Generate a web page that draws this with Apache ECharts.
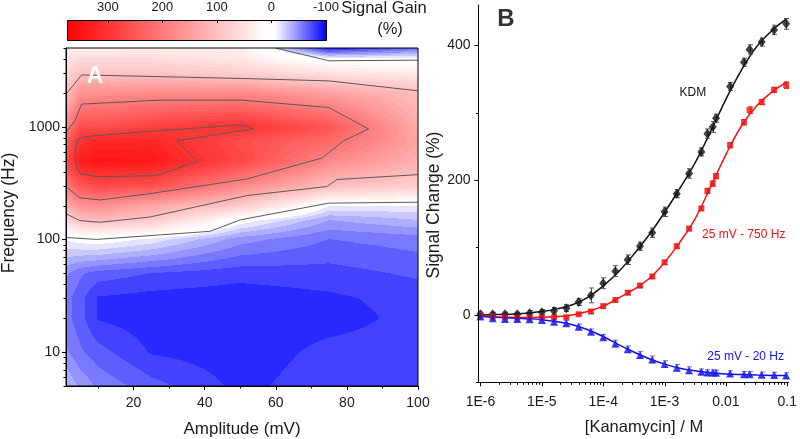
<!DOCTYPE html>
<html><head><meta charset="utf-8">
<script src="https://cdn.jsdelivr.net/npm/echarts@6/dist/echarts.min.js"></script>
<style>html,body{margin:0;padding:0;background:#fff}#c{width:800px;height:439px}</style>
</head><body><div id="c"></div>
<script>
// ================= Panel A : signal gain (%) over amplitude x frequency =================
const AMPLITUDE_MV = [1, 5, 10, 25, 50, 75, 100];
const FREQUENCY_HZ = [5, 10, 20, 30, 50, 100, 150, 200, 300, 500, 750, 1000, 2000, 3000, 4000, 5000];
// one row per frequency, one value per amplitude
const GAIN_5HZ    = [-30, -42, -52, -66, -83, -74, -74];
const GAIN_10HZ   = [-48, -58, -66, -81, -86, -77, -76];
const GAIN_20HZ   = [-56, -66, -81, -86, -87, -84, -77];
const GAIN_30HZ   = [-56, -66, -81, -84, -86, -82, -76];
const GAIN_50HZ   = [-48, -58, -64, -70, -76, -74, -68];
const GAIN_100HZ  = [-8, -3, 0, -12, -45, -60, -55];
const GAIN_150HZ  = [70, 100, 108, 90, 0, -40, -30];
const GAIN_200HZ  = [125, 164, 172, 135, 85, -10, -12];
const GAIN_300HZ  = [205, 250, 270, 262, 180, 105, 80];
const GAIN_500HZ  = [270, 335, 345, 340, 275, 180, 125];
const GAIN_750HZ  = [235, 305, 318, 320, 265, 225, 140];
const GAIN_1000HZ = [185, 266, 262, 284, 305, 255, 130];
const GAIN_2000HZ = [98, 165, 170, 176, 180, 145, 105];
const GAIN_3000HZ = [65, 98, 95, 95, 80, 50, 40];
const GAIN_4000HZ = [52, 62, 62, 62, 45, -3, -3];
const GAIN_5000HZ = [40, 30, 32, 35, 35, -90, -60];
const GAIN_ROWS = [GAIN_5HZ, GAIN_10HZ, GAIN_20HZ, GAIN_30HZ, GAIN_50HZ, GAIN_100HZ, GAIN_150HZ,
  GAIN_200HZ, GAIN_300HZ, GAIN_500HZ, GAIN_750HZ, GAIN_1000HZ, GAIN_2000HZ, GAIN_3000HZ, GAIN_4000HZ, GAIN_5000HZ];

// contour lines [amplitude mV, frequency Hz]
const CONTOUR_0_LOW  = [[1, 104], [9.6, 100], [41.5, 118], [50, 149], [74.9, 210], [100, 214]];
const CONTOUR_0_TOP  = [[60, 5000], [75, 3850], [100, 3900]];
const CONTOUR_100_LOW = [[1, 169], [4.9, 147], [10.6, 142], [24.6, 158], [51.9, 245], [74.4, 295], [77.2, 340], [100, 376]];
const CONTOUR_100_TOP = [[1, 1945], [5.4, 2884], [50, 2685], [74.9, 2553], [100, 2084]];
const CONTOUR_200 = [[1, 891], [3.5, 1129], [5.4, 1589], [27.5, 1722], [50.5, 1722], [74.9, 1482], [86.1, 955],
  [79.1, 751], [73, 528], [51.9, 344], [24.6, 255], [10.6, 224], [4.9, 234], [1, 294]];
const CONTOUR_300 = [[5.4, 804], [8.7, 832], [27.5, 922], [50.5, 1042], [53.7, 955], [32.2, 751], [37.8, 493],
  [26.5, 368], [9.6, 361], [4.9, 386], [4, 437], [3.5, 553], [4, 751], [5.4, 804]];

const A_X_MAJOR = [20, 40, 60, 80, 100];
const A_X_MINOR = [10, 30, 50, 70, 90];
const A_Y_MAJOR = [10, 100, 1000];
const A_Y_MINOR = [5, 6, 7, 8, 9, 20, 30, 40, 50, 60, 70, 80, 90, 200, 300, 400, 500, 600, 700, 800, 900, 2000, 3000, 4000, 5000];
const CBAR_TICKS = [300, 200, 100, 0, -100];

// ================= Panel B : signal change vs [Kanamycin] =================
const CONC_M = [1e-6, 1.58e-6, 2.51e-6, 3.98e-6, 6.31e-6, 1e-5, 1.58e-5, 2.51e-5, 3.98e-5, 6.31e-5,
  1e-4, 1.58e-4, 2.51e-4, 3.98e-4, 6.31e-4, 1e-3, 1.58e-3, 2.51e-3, 3.98e-3, 5e-3, 6.1e-3, 6.9e-3,
  0.0117, 0.0197, 0.0243, 0.0382, 0.061, 0.096];
const KDM_SIGNAL = [1, 1, 1, 1, 2.5, 4, 6, 10, 19, 29, 47, 65, 82, 102, 122, 153, 180, 210, 242, 269, 279, 292, 339, 375, 394, 405, 423, 432];
const KDM_ERR    = [3, 3, 3, 3, 4, 4, 5, 5, 5, 11, 8, 8, 7, 6, 7, 7, 6, 7, 6, 7, 8, 6, 6, 6, 7, 6, 7, 8];
const HZ750_SIGNAL = [0, -2.5, -3.5, -4, -4, -4, -4, -3.5, 1, 5, 13, 22, 33, 43.5, 57, 78, 102, 128, 158, 184, 195, 206, 252, 286, 304, 316, 334, 341];
const HZ750_ERR    = [2, 2, 2, 2, 2, 2, 2, 2, 2, 3, 3, 3, 3, 3, 3, 3, 3, 3, 3, 4, 4, 4, 4, 4, 5, 4, 4, 5];
const HZ20_SIGNAL = [-2.5, -5, -6, -6, -6.5, -7.5, -10, -12.3, -17.5, -25, -33, -42.5, -51, -59.5, -66, -73, -78.5, -82, -84.2, -85.4, -85.6, -85.8, -86.9, -88, -88.2, -88.9, -89.2, -89.9];
const HZ20_ERR    = [4, 4, 4, 4, 4, 4, 4, 4, 4, 4, 4, 5, 5, 5, 5, 5, 5, 5, 4, 4, 4, 4, 4, 4, 4, 4, 4, 4];

const FIT_CONC = [1e-6, 1.78e-6, 3.16e-6, 5.62e-6, 1e-5, 1.78e-5, 3.16e-5, 5.62e-5, 1e-4, 1.78e-4, 3.16e-4,
  5.62e-4, 1e-3, 1.78e-3, 3.16e-3, 5.62e-3, 1e-2, 1.78e-2, 3.16e-2, 5.62e-2, 0.1];
const KDM_FIT   = [0, 0.5, 1, 2.5, 5, 9, 15, 26, 43, 64, 90, 119, 152, 188, 226, 272, 320, 363, 398, 422, 440];
const HZ750_FIT = [-2, -3, -3.5, -4, -3.5, -2.5, 0, 5, 13, 25, 38, 54, 78, 108, 143, 190, 238, 280, 310, 331, 346];
const HZ20_FIT  = [-2, -3.5, -4.5, -5.5, -7, -10, -14.5, -22, -32, -44, -55, -65, -73, -79, -83, -86, -87.5, -88.5, -89.3, -89.8, -90];

const B_X_MAJOR = [1e-6, 1e-5, 1e-4, 1e-3, 1e-2, 1e-1];
const B_X_MINOR = [2e-6, 3e-6, 4e-6, 5e-6, 6e-6, 7e-6, 8e-6, 9e-6, 2e-5, 3e-5, 4e-5, 5e-5, 6e-5, 7e-5, 8e-5, 9e-5,
  2e-4, 3e-4, 4e-4, 5e-4, 6e-4, 7e-4, 8e-4, 9e-4, 2e-3, 3e-3, 4e-3, 5e-3, 6e-3, 7e-3, 8e-3, 9e-3,
  0.02, 0.03, 0.04, 0.05, 0.06, 0.07, 0.08, 0.09];
const B_Y_MAJOR = [0, 200, 400];
const B_Y_MINOR = [-100, 100, 300];
const NOTE_POS = [[2.89e-3, 330], [0.0195, 118.5], [0.021, -62]];
const NOTE_TEXT = ['KDM', '25 mV - 750 Hz', '25 mV - 20 Hz'];
const NOTE_COLOR = ['#111111', '#ee1111', '#1414e6'];

// ================= helpers =================
const FONT = "'Liberation Sans', Arial, Helvetica, sans-serif";
const TXT = '#1a1a1a';
function gainRGB(v) {
  if (v >= 10) { const t = Math.min((v - 10) / 365, 1); const g = Math.round(255 * (1 - t)); return [255, g, g]; }
  if (v >= -5) return [255, 255, 255];
  const t = Math.min((-5 - v) / 95, 1); const g = Math.round(255 * (1 - t)); return [g, g, 255];
}
function quant(v) { return (Math.floor(v / 10) + 0.5) * 10; }

const cells = [];
for (let fi = 0; fi < FREQUENCY_HZ.length - 1; fi++) {
  for (let ai = 0; ai < AMPLITUDE_MV.length - 1; ai++) {
    cells.push([AMPLITUDE_MV[ai], FREQUENCY_HZ[fi], AMPLITUDE_MV[ai + 1], FREQUENCY_HZ[fi + 1],
      GAIN_ROWS[fi][ai], GAIN_ROWS[fi][ai + 1], GAIN_ROWS[fi + 1][ai], GAIN_ROWS[fi + 1][ai + 1]]);
  }
}
function renderCell(params, api) {
  const aL = api.value(0), fL = api.value(1), aR = api.value(2), fH = api.value(3);
  const vBL = api.value(4), vBR = api.value(5), vTL = api.value(6), vTR = api.value(7);
  const p0 = api.coord([aL, fH]), p1 = api.coord([aR, fL]);
  const x0 = Math.round(p0[0]), y0 = Math.round(p0[1]), x1 = Math.round(p1[0]), y1 = Math.round(p1[1]);
  const w = x1 - x0, h = y1 - y0;
  if (w <= 0 || h <= 0) return null;
  const cv = document.createElement('canvas'); cv.width = w; cv.height = h;
  const ctx = cv.getContext('2d'); const img = ctx.createImageData(w, h);
  for (let j = 0; j < h; j++) {
    const s = (j + 0.5) / h;
    for (let i = 0; i < w; i++) {
      const u = (i + 0.5) / w;
      const top = vTL * (1 - u) + vTR * u, bot = vBL * (1 - u) + vBR * u;
      const c = gainRGB(quant(top * (1 - s) + bot * s));
      const k = (j * w + i) * 4;
      img.data[k] = c[0]; img.data[k + 1] = c[1]; img.data[k + 2] = c[2]; img.data[k + 3] = 255;
    }
  }
  ctx.putImageData(img, 0, 0);
  return { type: 'image', style: { image: cv, x: x0, y: y0, width: w, height: h } };
}
function tickSeries(xi, yi, values, len, orient, anchor) {
  return {
    type: 'custom', xAxisIndex: xi, yAxisIndex: yi, silent: true, clip: false, z: 8,
    data: values.map(v => [v]),
    renderItem: (params, api) => {
      const v = api.value(0);
      if (orient === 'y') {
        const p = api.coord([anchor, v]); const y = Math.round(p[1]) + 0.5;
        return { type: 'line', shape: { x1: p[0] - len, y1: y, x2: p[0], y2: y }, style: { stroke: '#000', lineWidth: 1 } };
      }
      const p = api.coord([v, anchor]); const x = Math.round(p[0]) + 0.5;
      return { type: 'line', shape: { x1: x, y1: p[1], x2: x, y2: p[1] + len }, style: { stroke: '#000', lineWidth: 1 } };
    }
  };
}
function errSeries(vals, errs, color) {
  return {
    type: 'custom', xAxisIndex: 2, yAxisIndex: 1, silent: true, z: 4,
    data: CONC_M.map((c, i) => [c, vals[i], errs[i]]),
    renderItem: (params, api) => {
      const c = api.value(0), v = api.value(1), e = api.value(2);
      const t = api.coord([c, v + e]), b = api.coord([c, v - e]);
      const x = Math.round(t[0]) + 0.5, hw = 2.5;
      return { type: 'group', children: [
        { type: 'line', shape: { x1: x, y1: t[1], x2: x, y2: b[1] }, style: { stroke: color, lineWidth: 1 } },
        { type: 'line', shape: { x1: x - hw, y1: t[1], x2: x + hw, y2: t[1] }, style: { stroke: color, lineWidth: 1 } },
        { type: 'line', shape: { x1: x - hw, y1: b[1], x2: x + hw, y2: b[1] }, style: { stroke: color, lineWidth: 1 } }
      ] };
    }
  };
}
function contour(data) {
  return { type: 'line', xAxisIndex: 0, yAxisIndex: 0, data: data, showSymbol: false, symbol: 'none', z: 3,
    lineStyle: { color: '#5a5a5a', width: 1 }, silent: true, clip: true };
}
function isDecade(v) { const l = Math.log10(v); return Math.abs(l - Math.round(l)) < 1e-6; }
const labelStyle = { color: TXT, fontFamily: FONT, fontSize: 14 };

const option = {
  animation: false,
  backgroundColor: '#fff',
  grid: [
    { left: 66, top: 48, width: 352, height: 338, show: true, borderColor: '#000', borderWidth: 1, backgroundColor: 'rgba(0,0,0,0)', z: 6 },
    { left: 478.5, top: 5, width: 316.5, height: 377.3 },
    { left: 67, top: 20, width: 259, height: 20 }
  ],
  xAxis: [
    { gridIndex: 0, type: 'value', min: 1, max: 100, z: 7,
      axisLine: { onZero: false, lineStyle: { color: '#000' } },
      axisTick: { customValues: A_X_MAJOR, length: 4, lineStyle: { color: '#000' } },
      axisLabel: Object.assign({ customValues: A_X_MAJOR, margin: 10 }, labelStyle),
      splitLine: { show: false } },
    { gridIndex: 0, type: 'value', min: 1, max: 100, position: 'bottom', z: 7,
      axisLine: { show: false, onZero: false },
      axisTick: { customValues: A_X_MINOR, length: 2.5, lineStyle: { color: '#000' } },
      axisLabel: { show: false }, splitLine: { show: false } },
    { gridIndex: 1, type: 'log', logBase: 10, min: 9.3e-7, max: 0.104, z: 7,
      axisLine: { onZero: false, lineStyle: { color: '#000' } },
      axisTick: { show: false },
      axisLabel: Object.assign({ margin: 13, formatter: v => {
        if (!isDecade(v)) return '';
        const e = Math.round(Math.log10(v));
        return e <= -3 ? '1E' + e : (e === -2 ? '0.01' : '0.1');
      } }, labelStyle),
      splitLine: { show: false }, minorTick: { show: false } },
    { gridIndex: 2, type: 'value', min: -100, max: 375, inverse: true, position: 'top', z: 7,
      axisLine: { show: false, onZero: false },
      axisTick: { customValues: CBAR_TICKS, inside: true, length: 3, lineStyle: { color: '#000' } },
      axisLabel: Object.assign({}, labelStyle, { customValues: CBAR_TICKS, margin: 6, fontSize: 13 }),
      splitLine: { show: false } }
  ],
  yAxis: [
    { gridIndex: 0, type: 'log', logBase: 10, min: 5, max: 5000, z: 7,
      axisLine: { onZero: false, lineStyle: { color: '#000' } },
      axisTick: { show: false },
      axisLabel: Object.assign({ margin: 6, formatter: v => isDecade(v) ? String(Math.round(v)) : '' }, labelStyle),
      splitLine: { show: false }, minorTick: { show: false } },
    { gridIndex: 1, type: 'value', min: -100, max: 460, position: 'left', z: 7,
      axisLine: { onZero: false, lineStyle: { color: '#000' } },
      axisTick: { customValues: B_Y_MAJOR, length: 4, lineStyle: { color: '#000' } },
      axisLabel: Object.assign({ customValues: B_Y_MAJOR, margin: 8 }, labelStyle),
      splitLine: { show: false } },
    { gridIndex: 1, type: 'value', min: -100, max: 460, position: 'left', z: 7,
      axisLine: { show: false, onZero: false },
      axisTick: { customValues: B_Y_MINOR, length: 2.5, lineStyle: { color: '#000' } },
      axisLabel: { show: false }, splitLine: { show: false } },
    { gridIndex: 2, type: 'value', min: 0, max: 1, show: false }
  ],
  series: [
    { type: 'custom', xAxisIndex: 0, yAxisIndex: 0, data: cells, renderItem: renderCell, clip: true, silent: true, z: 1,
      encode: { x: [0, 2], y: [1, 3] } },
    contour(CONTOUR_0_LOW), contour(CONTOUR_0_TOP), contour(CONTOUR_100_LOW), contour(CONTOUR_100_TOP),
    contour(CONTOUR_200), contour(CONTOUR_300),
    tickSeries(0, 0, A_Y_MAJOR, 4, 'y', 1),
    tickSeries(0, 0, A_Y_MINOR, 2.5, 'y', 1),
    tickSeries(2, 1, B_X_MAJOR, 4, 'x', -100),
    tickSeries(2, 1, B_X_MINOR, 2.5, 'x', -100),
    // colour bar
    { type: 'custom', xAxisIndex: 3, yAxisIndex: 3, silent: true, z: 2, data: [[375, 1, -100, 0]],
      renderItem: (params, api) => {
        const p0 = api.coord([api.value(0), api.value(1)]), p1 = api.coord([api.value(2), api.value(3)]);
        const off = v => (375 - v) / 475;
        return { type: 'rect', shape: { x: Math.round(p0[0]) + 0.5, y: Math.round(p0[1]) + 0.5,
          width: Math.round(p1[0] - p0[0]), height: Math.round(p1[1] - p0[1]) },
          style: { fill: new echarts.graphic.LinearGradient(0, 0, 1, 0, [
            { offset: 0, color: '#ff0000' }, { offset: off(10), color: '#ffffff' },
            { offset: off(-5), color: '#ffffff' }, { offset: 1, color: '#0000ff' }]),
            stroke: '#000', lineWidth: 1 } };
      } },
    // panel B fits
    { type: 'line', xAxisIndex: 2, yAxisIndex: 1, data: FIT_CONC.map((c, i) => [c, KDM_FIT[i]]), smooth: 0.4,
      showSymbol: false, symbol: 'none', lineStyle: { color: '#111', width: 1.5 }, z: 3, silent: true },
    { type: 'line', xAxisIndex: 2, yAxisIndex: 1, data: FIT_CONC.map((c, i) => [c, HZ750_FIT[i]]), smooth: 0.4,
      showSymbol: false, symbol: 'none', lineStyle: { color: '#ff1010', width: 1.5 }, z: 3, silent: true },
    { type: 'line', xAxisIndex: 2, yAxisIndex: 1, data: FIT_CONC.map((c, i) => [c, HZ20_FIT[i]]), smooth: 0.4,
      showSymbol: false, symbol: 'none', lineStyle: { color: '#1010f0', width: 1.5 }, z: 3, silent: true },
    errSeries(KDM_SIGNAL, KDM_ERR, '#555555'),
    errSeries(HZ750_SIGNAL, HZ750_ERR, '#ee3333'),
    errSeries(HZ20_SIGNAL, HZ20_ERR, '#7070ff'),
    { type: 'scatter', xAxisIndex: 2, yAxisIndex: 1, data: CONC_M.map((c, i) => [c, KDM_SIGNAL[i]]),
      symbol: 'diamond', symbolSize: [8, 10], itemStyle: { color: '#111' }, z: 5, silent: true },
    { type: 'scatter', xAxisIndex: 2, yAxisIndex: 1, data: CONC_M.map((c, i) => [c, HZ750_SIGNAL[i]]),
      symbol: 'rect', symbolSize: 6, itemStyle: { color: '#ee1111' }, z: 5, silent: true },
    { type: 'scatter', xAxisIndex: 2, yAxisIndex: 1, data: CONC_M.map((c, i) => [c, HZ20_SIGNAL[i]]),
      symbol: 'triangle', symbolSize: 8, itemStyle: { color: '#1414e6' }, z: 5, silent: true },
    { type: 'custom', xAxisIndex: 2, yAxisIndex: 1, silent: true, z: 6, clip: false,
      data: NOTE_POS.map((p, i) => [p[0], p[1], i]),
      renderItem: (params, api) => {
        const p = api.coord([api.value(0), api.value(1)]); const i = api.value(2);
        return { type: 'text', style: { text: NOTE_TEXT[i], x: p[0], y: p[1], align: 'center', verticalAlign: 'middle',
          fill: NOTE_COLOR[i], font: '12px ' + FONT } };
      } }
  ],
  graphic: [
    { type: 'text', x: 95, y: 77, z: 100, style: { text: 'A', fill: '#ffffff', font: 'bold 23px ' + FONT, align: 'center', verticalAlign: 'middle' } },
    { type: 'text', x: 506, y: 19, z: 100, style: { text: 'B', fill: '#333333', font: 'bold 24px ' + FONT, align: 'center', verticalAlign: 'middle' } },
    { type: 'text', x: 384, y: 8, z: 100, style: { text: 'Signal Gain', fill: TXT, font: '16.5px ' + FONT, align: 'center', verticalAlign: 'middle' } },
    { type: 'text', x: 390, y: 29.5, z: 100, style: { text: '(%)', fill: TXT, font: '16.5px ' + FONT, align: 'center', verticalAlign: 'middle' } },
    { type: 'text', x: 9, y: 213, rotation: Math.PI / 2, z: 100, style: { text: 'Frequency (Hz)', fill: TXT, font: '17.5px ' + FONT, align: 'center', verticalAlign: 'middle' } },
    { type: 'text', x: 242, y: 429, z: 100, style: { text: 'Amplitude (mV)', fill: TXT, font: '17px ' + FONT, align: 'center', verticalAlign: 'middle' } },
    { type: 'text', x: 434.5, y: 205, rotation: Math.PI / 2, z: 100, style: { text: 'Signal Change (%)', fill: TXT, font: '17.5px ' + FONT, align: 'center', verticalAlign: 'middle' } },
    { type: 'text', x: 644, y: 427, z: 100, style: { text: '[Kanamycin] / M', fill: TXT, font: '16.5px ' + FONT, align: 'center', verticalAlign: 'middle' } }
  ]
};
const chart = echarts.init(document.getElementById('c'), null, { renderer: 'canvas' });
chart.setOption(option);
</script>
</body></html>
